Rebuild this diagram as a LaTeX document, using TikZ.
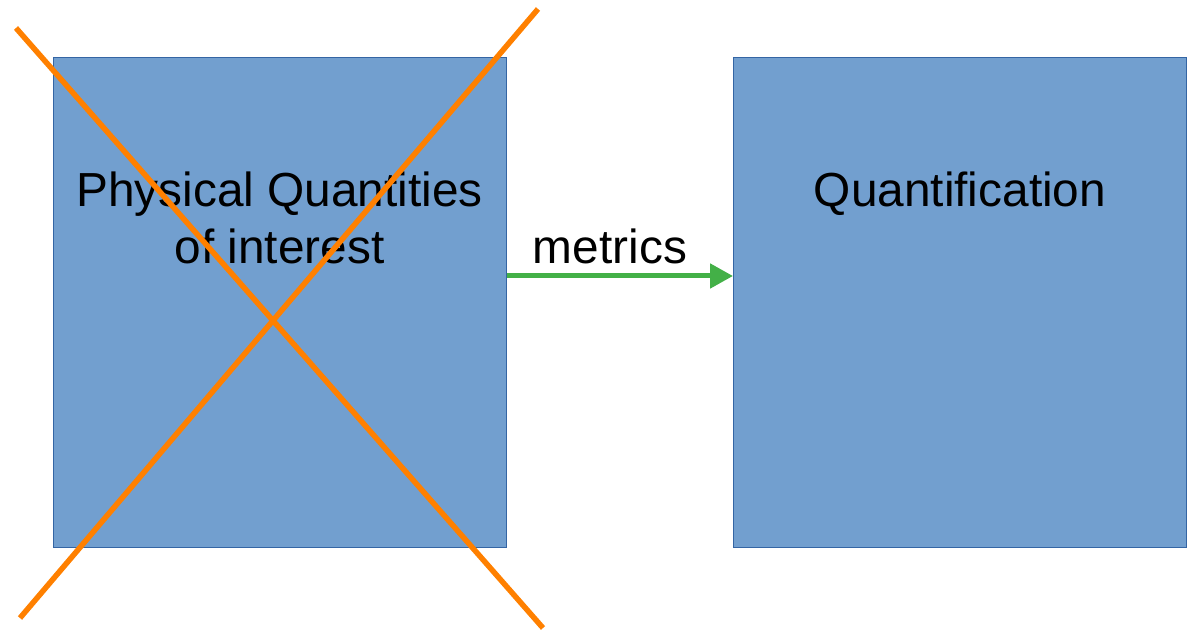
\documentclass[tikz,border=0pt]{standalone}
\usepackage{fontspec}
\setmainfont{Liberation Sans}
\usetikzlibrary{arrows.meta}
\definecolor{boxfill}{RGB}{114,159,207}
\definecolor{boxline}{RGB}{52,101,164}
\definecolor{crossorange}{RGB}{255,128,0}
\definecolor{arrowgreen}{RGB}{67,176,71}
\begin{document}
\begin{tikzpicture}[x=1pt,y=1pt,
  bigbox/.style={draw=boxline,line width=0.8pt,fill=boxfill,minimum width=453pt,minimum height=490pt,inner sep=0pt,anchor=north west},
  boxtext/.style={font=\fontsize{47.8}{57}\selectfont,align=center,inner sep=0pt,anchor=base},
  crossline/.style={draw=crossorange,line width=5.5pt},
  flow/.style={draw=arrowgreen,line width=5pt,-{Triangle[length=23pt,width=24pt]}}]
\useasboundingbox (0,0) rectangle (1198,632);
\node[bigbox] (left) at (53,575) {};
\node[bigbox] (right) at (733,575) {};
\node[boxtext] (lt1) at (279.5,425) {Physical Quantities};
\node[boxtext] (lt2) at (279.5,368) {of interest};
\node[boxtext] (rt) at (960,425) {Quantification};
\node[boxtext] (met) at (610,368) {metrics};
\coordinate (a1) at (16,604);
\coordinate (a2) at (543,4);
\coordinate (b1) at (538,623);
\coordinate (b2) at (20,14);
\draw[crossline] (a1) -- (a2);
\draw[crossline] (b1) -- (b2);
\draw[flow] (left.east |- 0,356) -- (right.west |- 0,356);
\end{tikzpicture}
\end{document}
